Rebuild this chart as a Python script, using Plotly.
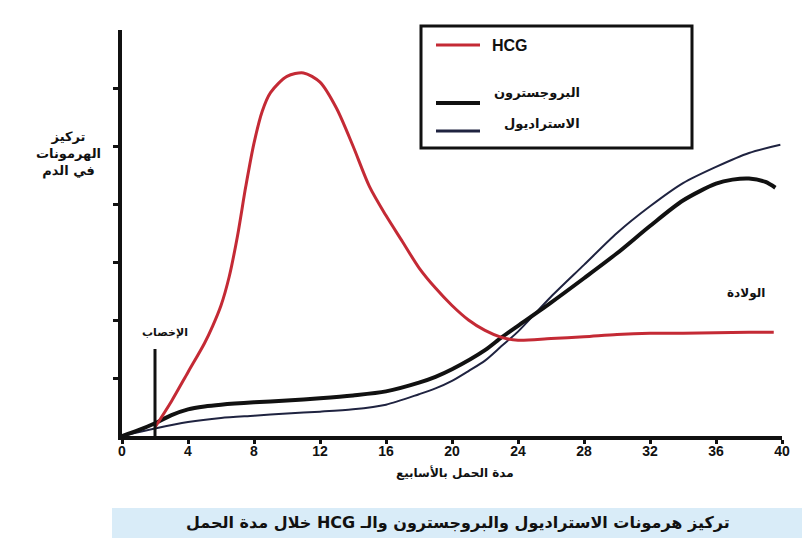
import plotly.graph_objects as go

# ---------------- data ----------------
hcg_weeks = [2, 3, 4, 5, 5.5, 6, 6.5, 7, 7.5, 8, 8.5, 9, 10, 11, 12, 13, 14, 15, 16, 17,
             18, 19, 20, 21, 22, 23, 24, 26, 28, 30, 32, 34, 36, 38, 39.5]
hcg_values = [0.15, 0.6, 1.1, 1.6, 1.9, 2.25, 2.75, 3.45, 4.3, 5.05, 5.6, 5.92, 6.2, 6.26,
              6.1, 5.65, 5.0, 4.3, 3.8, 3.35, 2.9, 2.55, 2.25, 2.0, 1.82, 1.7, 1.65, 1.68,
              1.71, 1.75, 1.77, 1.77, 1.78, 1.79, 1.79]

prog_weeks = [0, 1, 2, 3, 4, 5, 6, 8, 10, 12, 14, 16, 18, 19, 20, 22, 23, 24, 26, 28,
              30, 32, 34, 36, 37, 38, 39, 39.6]
prog_values = [0, 0.1, 0.22, 0.36, 0.46, 0.51, 0.54, 0.58, 0.61, 0.65, 0.7, 0.77, 0.92,
               1.02, 1.15, 1.48, 1.7, 1.9, 2.3, 2.72, 3.15, 3.62, 4.06, 4.35, 4.42,
               4.44, 4.38, 4.28]

estr_weeks = [0, 2, 4, 6, 8, 10, 12, 14, 16, 18, 19, 20, 21, 22, 23, 24, 26, 28, 30,
              32, 34, 36, 38, 39.9]
estr_values = [0, 0.13, 0.24, 0.31, 0.35, 0.39, 0.42, 0.46, 0.54, 0.72, 0.82, 0.95,
               1.12, 1.3, 1.55, 1.8, 2.4, 2.95, 3.5, 3.96, 4.36, 4.64, 4.88, 5.02]

x_ticks = [0, 4, 8, 12, 16, 20, 24, 28, 32, 36, 40]
x_tick_labels = ["0", "4", "8", "12", "16", "20", "24", "28", "32", "36", "40"]
y_ticks = [1, 2, 3, 4, 5, 6]

fertilization_week = 2
birth_week = 40

name_hcg = "HCG"
name_prog = "البروجسترون"
name_estr = "الاستراديول"
label_fert = "الإخصاب"
label_birth = "الولادة"
x_title = "مدة الحمل بالأسابيع"
y_title = "تركيز<br>الهرمونات<br>في الدم"
caption = "تركيز هرمونات الاستراديول والبروجسترون والـ HCG خلال مدة الحمل"

RED = "#c42a35"
NAVY = "#1f2340"
BLACK = "#111111"
AR_FONT = "DejaVu Sans"
LAT_FONT = "Liberation Sans"

# ---------------- layout geometry ----------------
OFF = 8                      # page body margin in the browser
W, H = 794, 530
# plot area in screen pixels
SX0, SX1, SY0, SY1 = 122, 782, 30, 436
ML = SX0 - OFF
MR = W - (SX1 - OFF)
MT = SY0 - OFF
MB = H - (SY1 - OFF)
PW, PH = SX1 - SX0, SY1 - SY0


def px(x):
    return (x - SX0) / PW


def py(y):
    return (SY1 - y) / PH


fig = go.Figure()

fig.add_trace(go.Scatter(x=estr_weeks, y=estr_values, mode="lines", name=name_estr,
                         line=dict(color=NAVY, width=2, shape="spline", smoothing=0.8),
                         showlegend=False, cliponaxis=False))
fig.add_trace(go.Scatter(x=prog_weeks, y=prog_values, mode="lines", name=name_prog,
                         line=dict(color=BLACK, width=4, shape="spline", smoothing=0.8),
                         showlegend=False, cliponaxis=False))
fig.add_trace(go.Scatter(x=hcg_weeks, y=hcg_values, mode="lines", name=name_hcg,
                         line=dict(color=RED, width=3, shape="spline", smoothing=0.8),
                         showlegend=False, cliponaxis=False))

shapes = []
shapes.append(dict(type="line", xref="x", yref="y", x0=fertilization_week, x1=fertilization_week,
                   y0=0, y1=1.5, line=dict(color=BLACK, width=3)))
shapes.append(dict(type="line", xref="x", yref="y", x0=birth_week + 0.3, x1=birth_week + 0.3,
                   y0=0, y1=5.05, line=dict(color=BLACK, width=5)))
# legend box
shapes.append(dict(type="rect", xref="paper", yref="paper", x0=px(421), x1=px(692),
                   y0=py(26), y1=py(148), line=dict(color=BLACK, width=3), fillcolor="white"))
shapes.append(dict(type="line", xref="paper", yref="paper", x0=px(436), x1=px(480),
                   y0=py(45), y1=py(45), line=dict(color=RED, width=3)))
shapes.append(dict(type="line", xref="paper", yref="paper", x0=px(436), x1=px(480),
                   y0=py(103), y1=py(103), line=dict(color=BLACK, width=4)))
shapes.append(dict(type="line", xref="paper", yref="paper", x0=px(436), x1=px(480),
                   y0=py(131), y1=py(131), line=dict(color=NAVY, width=3)))
# caption band
shapes.append(dict(type="rect", xref="paper", yref="paper", x0=px(112), x1=px(806),
                   y0=py(508), y1=py(538), line=dict(width=0), fillcolor="#d9ecf8", layer="below"))

RLE, PDF = "\u202b", "\u202c"
ann = []
ann.append(dict(xref="paper", yref="paper", x=px(490), y=py(45), xanchor="left", yanchor="middle",
                text=name_hcg, showarrow=False,
                font=dict(family=LAT_FONT, size=16, color=BLACK, weight="bold")))
ann.append(dict(xref="paper", yref="paper", x=px(582), y=py(92), xanchor="right", yanchor="middle",
                text=name_prog, showarrow=False,
                font=dict(family=AR_FONT, size=13, color=BLACK, weight="bold")))
ann.append(dict(xref="paper", yref="paper", x=px(582), y=py(123), xanchor="right", yanchor="middle",
                text=name_estr, showarrow=False,
                font=dict(family=AR_FONT, size=13, color=BLACK, weight="bold")))
ann.append(dict(xref="x", yref="y", x=fertilization_week + 0.6, y=1.78, xanchor="center", yanchor="middle",
                text=label_fert, showarrow=False,
                font=dict(family=AR_FONT, size=11, color=BLACK, weight="bold")))
ann.append(dict(xref="x", yref="y", x=birth_week - 2.2, y=2.45, xanchor="center", yanchor="middle",
                text=label_birth, showarrow=False,
                font=dict(family=AR_FONT, size=12, color=BLACK, weight="bold")))
ann.append(dict(xref="paper", yref="paper", x=px(68), y=py(154), xanchor="center", yanchor="middle",
                text=y_title, showarrow=False, align="center",
                font=dict(family=AR_FONT, size=13, color=BLACK, weight="bold")))
ann.append(dict(xref="paper", yref="paper", x=px(455), y=py(472), xanchor="center", yanchor="middle",
                text=x_title, showarrow=False,
                font=dict(family=AR_FONT, size=12, color=BLACK, weight="bold")))
ann.append(dict(xref="paper", yref="paper", x=px(458), y=py(522), xanchor="center", yanchor="middle",
                text=RLE + caption + PDF, showarrow=False,
                font=dict(family=AR_FONT, size=16, color=BLACK, weight="bold")))

fig.update_layout(
    width=W, height=H,
    margin=dict(l=ML, r=MR, t=MT, b=MB, pad=0),
    paper_bgcolor="white", plot_bgcolor="white",
    shapes=shapes, annotations=ann, showlegend=False,
    xaxis=dict(range=[0, 40], tickvals=x_ticks, ticktext=x_tick_labels,
               showgrid=False, zeroline=False, showline=True, linecolor=BLACK, linewidth=4,
               ticks="outside", ticklen=4, tickwidth=3, tickcolor=BLACK,
               ticklabelstandoff=-5,
               tickfont=dict(family=LAT_FONT, size=14, color=BLACK, weight="bold")),
    yaxis=dict(range=[0, 7], tickvals=y_ticks, showticklabels=False,
               showgrid=False, zeroline=False, showline=True, linecolor=BLACK, linewidth=4,
               ticks="outside", ticklen=5, tickwidth=3, tickcolor=BLACK),
)

fig.write_html("out.html")
